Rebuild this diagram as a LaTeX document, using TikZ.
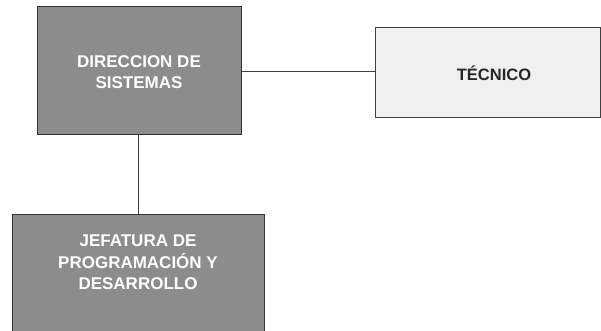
\documentclass[tikz,border=0pt]{standalone}
\usepackage{fontspec}
\setmainfont{Liberation Sans}
\begin{document}
\begin{tikzpicture}[x=1pt,y=-1pt,
  darkbox/.style={draw=black!80, line width=1pt, fill=black!45, inner sep=0pt},
  lightbox/.style={draw=black!75, line width=1pt, fill=black!6, inner sep=0pt},
  wtext/.style={text=white, font=\fontsize{17}{21.5}\selectfont\bfseries, align=center},
  btext/.style={text=black!85, font=\fontsize{16.5}{20}\selectfont\bfseries, align=center},
  link/.style={draw=black!75, line width=0.9pt}]
\useasboundingbox (0,0) rectangle (601,331);
\begin{scope}
\clip (0,0) rectangle (601,331);
\node[darkbox, minimum width=204pt, minimum height=128pt] (dir) at (139,71) {};
\node[wtext] (dirt) at (139,72) {DIRECCION DE\\SISTEMAS};
\node[lightbox, minimum width=225pt, minimum height=90pt] (tec) at (487.5,73) {};
\node[btext] (tect) at (494,73.5) {TÉCNICO};
\node[darkbox, minimum width=252pt, minimum height=131pt] (jef) at (138,279.5) {};
\node[wtext] (jeft) at (138,262.5) {JEFATURA DE\\PROGRAMACIÓN Y\\DESARROLLO};
\draw[link] (dir.east |- 0,71) -- (tec.west |- 0,71);
\draw[link] (dir.south -| 138,0) -- (jef.north -| 138,0);
\end{scope}
\end{tikzpicture}
\end{document}
